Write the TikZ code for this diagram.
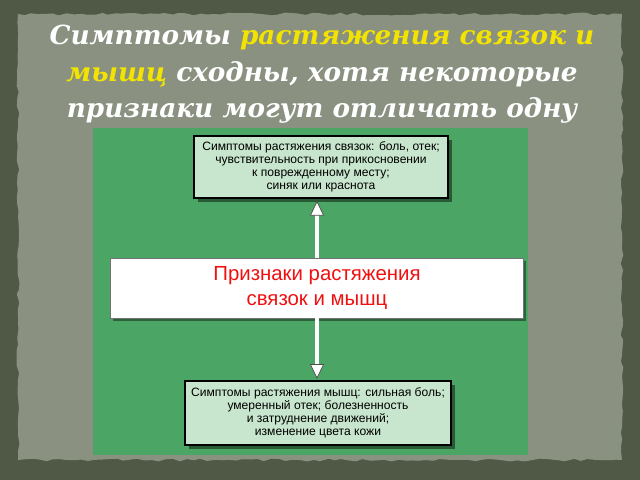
\documentclass[tikz,border=0pt]{standalone}
\usepackage{fontspec}
\setmainfont{Liberation Sans}
\newfontfamily\titlefont{DejaVu Serif}
\usetikzlibrary{arrows.meta,shadows,decorations.pathmorphing}

\definecolor{slate}{HTML}{4F5946}
\definecolor{panel}{HTML}{8A9181}
\definecolor{board}{HTML}{4BA564}
\definecolor{mint}{HTML}{C8E6CD}
\definecolor{headyellow}{HTML}{F2E400}
\definecolor{signred}{HTML}{F01010}
\newdimen\px \px=0.025cm

\tikzset{
  headline/.style={align=center, anchor=north, text=white,
    font=\titlefont\bfseries\itshape\fontsize{18.7}{26}\selectfont},
  symbox/.style={draw=black, line width=1.1pt, fill=mint, align=center,
    font=\fontsize{8.6}{9.3}\selectfont, inner sep=0pt,
    drop shadow={shadow xshift=2.5pt, shadow yshift=-2.5pt, fill=black, opacity=0.45}},
  signbox/.style={draw=black!55, line width=0.6pt, fill=white, align=center,
    text=signred, font=\fontsize{14.5}{17.8}\selectfont, inner sep=0pt,
    drop shadow={shadow xshift=2pt, shadow yshift=-2pt, fill=black, opacity=0.4}},
  link/.style={draw=black!70, double=white, double distance=2.2pt, line width=0.5pt,
    -{Triangle[length=10.5pt, width=10pt, fill=white]}}
}

\begin{document}
\begin{tikzpicture}[x=\px, y=-\px]
  \useasboundingbox (0,0) rectangle (640,480);
  \fill [slate] (0,0) rectangle (640,480);
  \fill [panel, decorate, decoration={random steps, segment length=5pt, amplitude=1pt}]
    (18,14) rectangle (622,460);

  % title
  \node [headline] (title) at (322,20)
    {Симптомы \textcolor{headyellow}{растяжения связок и}\\
     \textcolor{headyellow}{мышц} сходны, хотя некоторые\\
     признаки могут отличать одну};

  \fill [board] (93,128) rectangle (528,455);

  \node [symbox, minimum width=254\px, minimum height=62\px] (sprain) at (321,167)
    {Симптомы растяжения связок: боль, отек;\\
     чувствительность при прикосновении\\
     к поврежденному месту;\\
     синяк или краснота};

  \node [signbox, minimum width=413\px, minimum height=60\px] (signs) at (317,288)
    {Признаки растяжения\\ связок и мышц};

  \node [symbox, minimum width=266\px, minimum height=64\px] (strain) at (318,413)
    {Симптомы растяжения мышц: сильная боль;\\
     умеренный отек; болезненность\\
     и затруднение движений;\\
     изменение цвета кожи};

  \draw [link, shorten >=1.5pt] (signs.north) -- (signs.north |- sprain.south);
  \draw [link, shorten >=1pt] (signs.south) -- (signs.south |- strain.north);
\end{tikzpicture}
\end{document}
